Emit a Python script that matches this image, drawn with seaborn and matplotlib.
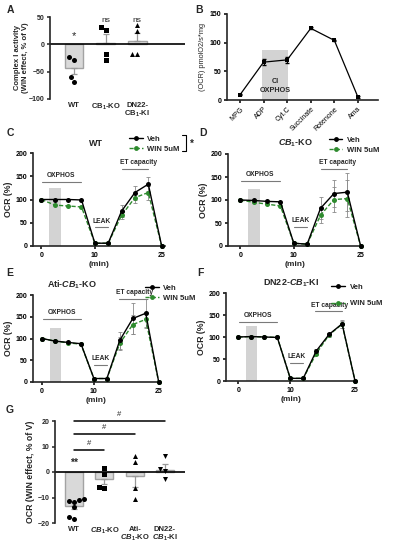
import numpy as np
import pandas as pd
import matplotlib.pyplot as plt
import seaborn as sns
from matplotlib.lines import Line2D
from matplotlib.patches import Rectangle

sns.set_theme(style="ticks")
plt.rcParams["font.family"] = ["Liberation Sans", "DejaVu Sans"]
plt.rcParams["font.weight"] = "bold"
plt.rcParams["axes.labelweight"] = "bold"
plt.rcParams["mathtext.fontset"] = "custom"
plt.rcParams["mathtext.rm"] = "Liberation Sans:bold"
plt.rcParams["mathtext.it"] = "Liberation Sans:italic:bold"
plt.rcParams["mathtext.bf"] = "Liberation Sans:bold"
plt.rcParams["axes.linewidth"] = 1.2
plt.rcParams["xtick.major.width"] = 1.1
plt.rcParams["ytick.major.width"] = 1.1
plt.rcParams["xtick.major.size"] = 2.5
plt.rcParams["ytick.major.size"] = 2.5
plt.rcParams["xtick.major.pad"] = 1.5
plt.rcParams["ytick.major.pad"] = 1.5

# ---- data ----
# A: complex I activity
a_groups = ["WT", "CB1-KO", "DN22-CB1-KI"]
a_labels = ["WT", r"$\mathrm{CB_1}$-KO", "DN22-\n" + r"$\mathrm{CB_1}$-KI"]
a_mean = [-43, 2, 6]
a_sem = [12, 16, 14]
a_points = [[-24, -28, -60, -68], [31, 26, -18, -28], [35, 24, -17, -17]]
a_marks = ["*", "ns", "ns"]

# B: substrate titration
b_steps = ["MPG", "ADP", "Cyt.C", "Succinate", "Rotenone", "Ama"]
b_ocr = [9, 66, 70, 125, 104, 5]
b_err = [1, 5, 5, 2, 1, 2]

# C-F: OCR time courses (10 measurement steps)
steps = list(range(10))
c_veh = [100, 100, 100, 99, 6, 6, 75, 115, 133, 0]
c_veh_err = [0, 0, 0, 0, 0, 0, 13, 15, 15, 0]
c_win = [100, 88, 86, 84, 6, 6, 66, 104, 115, 0]
c_win_err = [0, 0, 0, 0, 0, 0, 8, 11, 15, 0]

d_veh = [100, 99, 97, 96, 6, 4, 82, 114, 117, 0]
d_veh_err = [0, 0, 0, 0, 0, 0, 24, 30, 41, 0]
d_win = [100, 95, 91, 87, 6, 4, 67, 101, 103, 0]
d_win_err = [0, 0, 0, 0, 0, 0, 18, 28, 40, 0]

e_veh = [100, 94, 91, 88, 8, 8, 96, 146, 158, 0]
e_veh_err = [0, 0, 0, 0, 0, 0, 20, 35, 33, 0]
e_win = [100, 94, 90, 87, 8, 8, 89, 132, 144, 0]
e_win_err = [0, 0, 0, 0, 0, 0, 15, 22, 17, 0]

f_veh = [100, 101, 100, 99, 6, 6, 68, 106, 130, 0]
f_veh_err = [0, 0, 0, 0, 0, 0, 4, 4, 9, 0]
f_win = [100, 101, 100, 99, 6, 6, 62, 105, 129, 0]
f_win_err = [0, 0, 0, 0, 0, 0, 4, 4, 8, 0]

# G: OCR WIN effect
g_groups = ["WT", "CB1-KO", "Ati-CB1-KO", "DN22-CB1-KI"]
g_labels = ["WT", r"$\mathit{CB_1}$-KO", "Ati-\n" + r"$\mathit{CB_1}$-KO",
            "DN22-\n" + r"$\mathit{CB_1}$-KI"]
g_mean = [-13.3, -2.7, -1.4, 0.8]
g_sem = [1.3, 1.9, 4.3, 2.3]
g_points = [[-11.2, -11.6, -10.8, -10.6, -13.8, -17.8, -18.6],
            [1.5, -0.7, -5.7, -6.3],
            [6.3, 3.8, -6.3, -10.5],
            [6.1, 1.0, 0.3, -2.7]]

GREEN = "#2e8b2e"
BAR_FILL = "#d9d9d9"
BAR_EDGE = "#a3a3a3"
W, H = 395, 550

fig = plt.figure(figsize=(W / 100, H / 100), dpi=100)


def box(x0, y0, x1, y1):
    return fig.add_axes([x0 / W, 1 - y1 / H, (x1 - x0) / W, (y1 - y0) / H])


def style(ax):
    sns.despine(ax=ax)
    ax.tick_params(labelsize=5, colors="black")
    for lab in ax.get_yticklabels():
        lab.set_fontweight("bold")


def bar_panel(ax, groups, labels, means, sems, points, markers):
    sns.barplot(x=groups, y=means, order=groups, color=BAR_FILL, edgecolor=BAR_EDGE,
                linewidth=1, width=0.6, errorbar=None, saturation=1, ax=ax, zorder=1)
    lo = [s if m < 0 else 0 for m, s in zip(means, sems)]
    hi = [s if m >= 0 else 0 for m, s in zip(means, sems)]
    ax.errorbar(range(len(groups)), means, yerr=[lo, hi], fmt="none",
                ecolor="#999999", elinewidth=0.9, capsize=2, capthick=0.9, zorder=2)
    for g, pts, mk in zip(groups, points, markers):
        sns.swarmplot(x=[g] * len(pts), y=pts, order=groups, marker=mk, color="black",
                      size=3.6, ax=ax, zorder=3)
    ax.axhline(0, color="black", lw=1.2, zorder=2)
    sns.despine(ax=ax, bottom=True)
    ax.set_xticks(range(len(groups)))
    ax.set_xticklabels(labels, fontsize=5.5, fontweight="bold", linespacing=1.0)
    ax.tick_params(axis="x", length=0, pad=2)
    ax.tick_params(axis="y", labelsize=5)
    for lab in ax.get_yticklabels():
        lab.set_fontweight("bold")
    ax.set_xlabel("")


# ---- A ----
axA = box(50, 17, 185, 99)
bar_panel(axA, a_groups, a_labels, a_mean, a_sem, a_points, ["o", "s", "^"])
axA.set_ylim(-100, 50)
axA.set_yticks([-100, -50, 0, 50])
axA.set_xlim(-0.76, 3.52)
axA.set_ylabel("Complex I activity\n(WIN effect, % of V)", fontsize=5.5, labelpad=0,
               linespacing=1.1)
for i, m in enumerate(a_marks):
    if m == "*":
        axA.text(i, 16, m, ha="center", va="center", fontsize=8, fontweight="normal")
    else:
        axA.text(i, 44, m, ha="center", va="center", fontsize=6, fontweight="normal")

# ---- B ----
axB = box(227, 14, 378, 100)
bx = np.arange(len(b_steps))
axB.add_patch(Rectangle((0.95, 0), 1.1, 88, color="#d3d3d3", lw=0, zorder=0))
axB.text(1.5, 24, "CI\nOXPHOS", ha="center", va="center", fontsize=5.2,
         fontweight="bold", linespacing=1.3)
sns.lineplot(x=bx, y=b_ocr, color="black", lw=0.9, marker="s", markersize=3,
             markeredgewidth=0, ax=axB, clip_on=False, zorder=3)
axB.errorbar(bx, b_ocr, yerr=b_err, fmt="none", ecolor="black", elinewidth=0.8,
             capsize=1.5, zorder=3)
axB.set_xlim(-0.55, 5.85)
axB.set_ylim(0, 150)
axB.set_yticks([0, 50, 100, 150])
axB.set_xticks(bx)
axB.set_xticklabels(b_steps, rotation=45, ha="right", rotation_mode="anchor",
                    fontsize=4.8, fontweight="normal")
style(axB)
axB.set_ylabel("(OCR) pmolO2/s*mg", fontsize=5.3, fontweight="normal", labelpad=3)


# ---- C-F ----
def time_panel(ax, veh, veh_err, win, win_err, title, title_x, xlim, ann, leg):
    ax.add_patch(Rectangle((0.6, 0), 0.85, 125, color="#d3d3d3", lw=0, zorder=0))
    sns.lineplot(x=steps, y=win, color=GREEN, lw=1, linestyle=(0, (3, 1.5)),
                 marker="o", markersize=3.6, markeredgewidth=0, ax=ax,
                 clip_on=False, zorder=3)
    sns.lineplot(x=steps, y=veh, color="black", lw=1, marker="o", markersize=3.6,
                 markeredgewidth=0, ax=ax, clip_on=False, zorder=4)
    ax.errorbar(steps, win, yerr=win_err, fmt="none", ecolor="#8a8a8a",
                elinewidth=0.6, capsize=1.5, capthick=0.6, zorder=2)
    ax.errorbar(steps, veh, yerr=veh_err, fmt="none", ecolor="#8a8a8a",
                elinewidth=0.6, capsize=1.5, capthick=0.6, zorder=2)
    ax.set_xlim(*xlim)
    ax.set_ylim(0, 200)
    ax.set_yticks([0, 50, 100, 150, 200])
    ax.set_xticks([0, 4, 9])
    ax.set_xticklabels(["0", "10", "25"], fontweight="bold")
    style(ax)
    ax.set_ylabel("OCR (%)", fontsize=6.3, labelpad=2)
    ax.set_xlabel("(min)", fontsize=6, labelpad=2)
    ax.text(title_x, 1.05, title, transform=ax.transAxes, ha="center", va="bottom",
            fontsize=6.5, fontweight="bold")
    # protocol annotations
    for (x0, x1, y, label, lx) in ann:
        ax.plot([x0, x1], [y, y], color="#7a7a7a", lw=0.8, clip_on=False)
        ax.text(lx, y + 6, label, ha="center", va="bottom", fontsize=4.8,
                fontweight="bold")
    handles = [Line2D([], [], color="black", lw=1, marker="o", ms=3.5, mew=0),
               Line2D([], [], color=GREEN, lw=1, ls=(0, (3, 1.5)), marker="o",
                      ms=3.5, mew=0)]
    ax.legend(handles, ["Veh", "WIN 5uM"], loc="upper right",
              bbox_to_anchor=leg[:2], frameon=False, fontsize=5.5, handlelength=1.8,
              handletextpad=0.6, borderaxespad=0, borderpad=0, labelspacing=leg[2])


axC = box(33, 153, 165, 246)
time_panel(axC, c_veh, c_veh_err, c_win, c_win_err, "WT", 0.48, (-0.63, 9.25),
           [(0.05, 3.0, 138, "OXPHOS", 1.5), (4, 5, 40, "LEAK", 4.5),
            (6, 8, 165, "ET capacity", 7.3)], (1.11, 1.19, 0.35))
axC.plot([1.13, 1.16, 1.16, 1.13], [1.19, 1.19, 1.02, 1.02], color="black", lw=0.8,
         transform=axC.transAxes, clip_on=False)
axC.text(1.2, 1.1, "*", transform=axC.transAxes, ha="center", va="center", fontsize=7)

axD = box(228, 154, 362, 246)
time_panel(axD, d_veh, d_veh_err, d_win, d_win_err, r"$\mathit{CB_1}$-KO", 0.5,
           (-0.92, 9.1),
           [(0.05, 3.0, 142, "OXPHOS", 1.5), (4, 5, 41, "LEAK", 4.5),
            (6, 8, 167, "ET capacity", 7.3)], (1.13, 1.19, 0.35))

axE = box(33, 295, 160, 382)
time_panel(axE, e_veh, e_veh_err, e_win, e_win_err, r"Ati-$\mathit{CB_1}$-KO", 0.31,
           (-0.7, 9.1),
           [(0.05, 3.0, 145, "OXPHOS", 1.5), (4, 5, 40, "LEAK", 4.5),
            (5.9, 8.1, 191, "ET capacity", 7.1)], (1.28, 1.12, 0.35))

axF = box(226, 293, 357, 381)
time_panel(axF, f_veh, f_veh_err, f_win, f_win_err, r"DN22-$\mathit{CB_1}$-KI", 0.5,
           (-0.96, 9.15),
           [(0.05, 3.0, 135, "OXPHOS", 1.5), (4, 5, 42, "LEAK", 4.5),
            (5.9, 8.0, 158, "ET capacity", 7.0)], (1.19, 1.11, 1.2))

# ---- G ----
axG = box(55, 421, 185, 523)
bar_panel(axG, g_groups, g_labels, g_mean, g_sem, g_points, ["o", "s", "^", "v"])
axG.set_ylim(-20, 20)
axG.set_yticks([-20, -10, 0, 10, 20])
axG.set_xlim(-0.63, 3.66)
axG.set_ylabel("OCR (WIN effect, % of V)", fontsize=6.3, labelpad=2)
axG.text(0, 3.7, "**", ha="center", va="center", fontsize=7.5)
for j, y in zip([1, 2, 3], [8.7, 14.8, 20]):
    axG.plot([0, j], [y, y], color="black", lw=1.1, clip_on=False)
    axG.text(j / 2, y + 1.2, "#", ha="center", va="bottom", fontsize=5.5,
             fontweight="normal", clip_on=False)

# panel letters
for letter, (px, py) in {"A": (10, 10), "B": (199, 10), "C": (10, 133), "D": (203, 133),
                         "E": (10, 273), "F": (200, 273), "G": (10, 410)}.items():
    fig.text(px / W, 1 - py / H, letter, ha="center", va="center", fontsize=7.5,
             fontweight="bold")

fig.savefig("out.png", dpi=100)
